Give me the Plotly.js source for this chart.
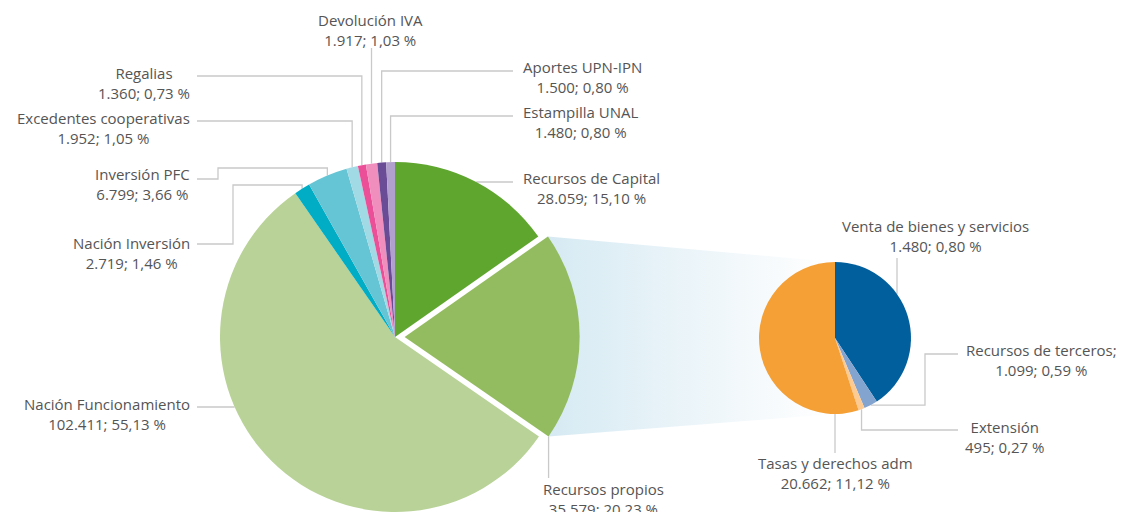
<!DOCTYPE html>
<html><head><meta charset="utf-8">
<script src="https://cdn.plot.ly/plotly-3.0.1.min.js"></script>
<style>html,body{margin:0;padding:0;overflow:hidden;background:#fff}#chart{width:1121px;height:560px}</style>
</head><body><div id="chart"></div>
<script>
// ---------- DATA ----------
const mainLabels = ['Recursos de Capital','Recursos propios','Nación Funcionamiento','Nación Inversión','Inversión PFC','Excedentes cooperativas','Regalias','Devolución IVA','Aportes UPN-IPN','Estampilla UNAL'];
const mainValues = [28059,35579,102411,2719,6799,1952,1360,1917,1500,1480];
const mainValueText = ['28.059','35.579','102.411','2.719','6.799','1.952','1.360','1.917','1.500','1.480'];
const mainPctText = ['15,10','20,23','55,13','1,46','3,66','1,05','0,73','1,03','0,80','0,80'];

const subLabels = ['Venta de bienes y servicios','Recursos de terceros;','Extensión','Tasas y derechos adm'];
const subValues = [15300,1099,495,20662];
const subValueText = ['1.480','1.099','495','20.662'];
const subPctText = ['0,80','0,59','0,27','11,12'];

// ---------- STYLE / LAYOUT ----------
const mainColors = ['#5ea62e','#93bb5f','#b8d297','#00adc5','#66c5d5','#a1d9e4','#ea4f98','#f08fbe','#6a4b95','#b1a0cd'];
const subColors = ['#005f9c','#84a4d0','#fdca92','#f4a037'];
const W = 1121, H = 560;
const M = {cx:395, cy:337, r:175, pull:0.055};
const S = {cx:835, cy:338, r:76};
const lineColor = '#c9c9c9';
const font = {family:'"Open Sans", sans-serif', size:15, color:'#555555'};

function domainOf(c, pull){
  const half = c.r*(1+(pull||0));
  return {x:[(c.cx-half)/W,(c.cx+half)/W], y:[(H-c.cy-half)/H,(H-c.cy+half)/H]};
}
function cumFrac(vals){
  const tot = vals.reduce((a,b)=>a+b,0); const out=[0]; let s=0;
  vals.forEach(v=>{s+=v; out.push(s/tot);}); return out;
}
function pt(c, frac, rr, ox, oy){
  const t = 2*Math.PI*frac;
  return [c.cx + (ox||0) + rr*Math.sin(t), c.cy + (oy||0) - rr*Math.cos(t)];
}
const mc = cumFrac(mainValues), sc = cumFrac(subValues);
const mMid = i => (mc[i]+mc[i+1])/2, sMid = i => (sc[i]+sc[i+1])/2;

// pulled slice (Recursos propios) offset
const pIdx = 1;
const pOff = pt({cx:0,cy:0}, mMid(pIdx), M.pull*M.r);
const cornerTop = pt(M, mc[pIdx], M.r, pOff[0], pOff[1]);
const cornerBot = pt(M, mc[pIdx+1], M.r, pOff[0], pOff[1]);

function eR(c,y){return c.cx + Math.sqrt(c.r*c.r-(y-c.cy)*(y-c.cy));}
function eL(c,y){return c.cx - Math.sqrt(c.r*c.r-(y-c.cy)*(y-c.cy));}
function eT(c,x){return c.cy - Math.sqrt(c.r*c.r-(x-c.cx)*(x-c.cx));}

const mm = i => pt(M, mMid(i), M.r);
const sm = i => pt(S, sMid(i), S.r);

const leaders = [
  [[513,182],[eR(M,182),182]],
  [cornerBot,[cornerBot[0],478]],
  [[197,407],[eL(M,407),407]],
  [[197,244],[233,244],[233,185],[mm(3)[0],185],mm(3)],
  [[197,179],[218,179],[218,168],[mm(4)[0],168],mm(4)],
  [[197,121],[mm(5)[0],121],mm(5)],
  [[197,76],[mm(6)[0],76],mm(6)],
  [[mm(7)[0],48],mm(7)],
  [[513,71],[mm(8)[0],71],mm(8)],
  [[513,116],[mm(9)[0],116],mm(9)],
  [[897,258],[897,eT(S,897)]],
  [[958,354],[925,354],[925,sm(1)[1]],sm(1)],
  [[958,430],[sm(2)[0],430],sm(2)],
  [[S.cx,453],[S.cx,S.cy+S.r]]
];
const lx=[], ly=[];
leaders.forEach(p=>{p.forEach(q=>{lx.push(q[0]);ly.push(q[1]);}); lx.push(null); ly.push(null);});

const mainPos = [
  {x:521,y:188,xa:'left'},{x:541,y:499,xa:'left'},{x:192,y:413.5,xa:'right'},
  {x:192,y:253,xa:'right'},{x:192,y:184,xa:'right'},{x:192,y:127.5,xa:'right'},
  {x:192,y:82.5,xa:'right'},{x:370,y:30,xa:'center'},{x:521,y:77,xa:'left'},{x:521,y:122,xa:'left'}
];
const subPos = [
  {x:935,y:235.5,xa:'center'},{x:1119,y:359.5,xa:'right'},{x:963,y:436.5,xa:'left'},{x:835,y:473,xa:'center'}
];
const annotations = [];
mainLabels.forEach((l,i)=>annotations.push({x:mainPos[i].x,y:mainPos[i].y,xref:'x',yref:'y',xanchor:mainPos[i].xa,yanchor:'middle',align:'center',showarrow:false,font:font,text:l+'<br>'+mainValueText[i]+'; '+mainPctText[i]+' %'}));
subLabels.forEach((l,i)=>annotations.push({x:subPos[i].x,y:subPos[i].y,xref:'x',yref:'y',xanchor:subPos[i].xa,yanchor:'middle',align:'center',showarrow:false,font:font,text:l+'<br>'+subValueText[i]+'; '+subPctText[i]+' %'}));

const data = [
  {type:'scatter', mode:'lines', x:[cornerTop[0],S.cx,S.cx,cornerBot[0]], y:[cornerTop[1],S.cy-S.r,S.cy+S.r,cornerBot[1]],
   fill:'toself', line:{width:0}, fillgradient:{type:'horizontal', colorscale:[[0,'#d6eaf3'],[0.75,'#f6fafc'],[1,'#ffffff']]}, hoverinfo:'skip'},
  {type:'scatter', mode:'lines', x:lx, y:ly, line:{color:lineColor,width:1.3}, hoverinfo:'skip'},
  {type:'pie', values:mainValues, labels:mainLabels, sort:false, direction:'clockwise', rotation:0,
   textinfo:'none', hoverinfo:'none', marker:{colors:mainColors, line:{width:0}},
   pull:mainValues.map((v,i)=>i===pIdx?M.pull:0), domain:domainOf(M,M.pull)},
  {type:'pie', values:subValues, labels:subLabels, sort:false, direction:'clockwise', rotation:0,
   textinfo:'none', hoverinfo:'none', marker:{colors:subColors, line:{width:0}}, domain:domainOf(S,0)}
];
const layout = {
  width:W, height:H, margin:{l:0,r:0,t:0,b:0}, showlegend:false,
  paper_bgcolor:'#fff', plot_bgcolor:'#fff',
  xaxis:{range:[0,W], visible:false, fixedrange:true},
  yaxis:{range:[H,0], visible:false, fixedrange:true},
  annotations:annotations
};
Plotly.newPlot('chart', data, layout, {staticPlot:true, displayModeBar:false});
</script></body></html>
